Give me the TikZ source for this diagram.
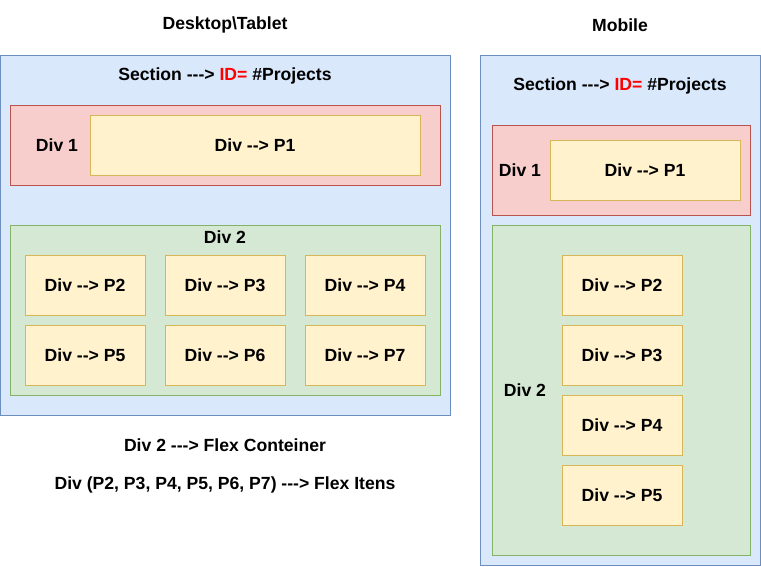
\documentclass[tikz,border=0pt]{standalone}
\usepackage{fontspec}
\setmainfont[Ligatures=TeXOff]{Liberation Sans}
\usepackage{tikz}

\definecolor{secfill}{HTML}{DAE8FC}
\definecolor{secline}{HTML}{6C8EBF}
\definecolor{redfill}{HTML}{F8CECC}
\definecolor{redline}{HTML}{B85450}
\definecolor{greenfill}{HTML}{D5E8D4}
\definecolor{greenline}{HTML}{82B366}
\definecolor{pfill}{HTML}{FFF2CC}
\definecolor{pline}{HTML}{D6B656}

\tikzset{
  box/.style={rectangle, draw, line width=1pt, inner sep=0pt},
  section/.style={box, fill=secfill, draw=secline},
  divred/.style={box, fill=redfill, draw=redline},
  divgreen/.style={box, fill=greenfill, draw=greenline},
  pbox/.style={box, fill=pfill, draw=pline, minimum width=120pt, minimum height=60pt},
  txt/.style={font=\fontsize{17.6}{20}\selectfont\bfseries, inner sep=0pt}
}

\begin{document}
\begin{tikzpicture}[x=1pt, y=-1pt]
\useasboundingbox (0,0) rectangle (761,566);
\path
(225,25) node[txt] (title-desk) {Desktop\textbackslash Tablet}
(620,25) node[txt] (title-mob) {Mobile};

% desktop / tablet
\path
(225,235) node[section, minimum width=450pt, minimum height=360pt] (desk) {}
(225,76) node[txt] (desk-sec) {Section ---> \textcolor{red}{ID=} \#Projects}
(225,145) node[divred, minimum width=430pt, minimum height=80pt] (desk-div1) {}
(57,145) node[txt] (desk-div1-lbl) {Div 1}
(255,145) node[pbox, minimum width=330pt] (desk-p1) {}
(255,145) node[txt] {Div --> P1}
(225,310) node[divgreen, minimum width=430pt, minimum height=170pt] (desk-div2) {}
(225,237) node[txt] (desk-div2-lbl) {Div 2}
(85,285) node[pbox] (desk-p2) {}
(225,285) node[pbox] (desk-p3) {}
(365,285) node[pbox] (desk-p4) {}
(85,355) node[pbox] (desk-p5) {}
(225,355) node[pbox] (desk-p6) {}
(365,355) node[pbox] (desk-p7) {};
\foreach \p in {2,...,7}
  \node[txt] at (desk-p\p) {Div --> P\p};

\path
(225,445) node[txt] (note-flex) {Div 2 ---> Flex Conteiner}
(225,485) node[txt] (note-itens) {Div (P2, P3, P4, P5, P6, P7) ---> Flex Itens};

% mobile
\path
(620,310) node[section, minimum width=280pt, minimum height=510pt] (mob) {}
(620,86) node[txt] (mob-sec) {Section ---> \textcolor{red}{ID=} \#Projects}
(621,170) node[divred, minimum width=258pt, minimum height=90pt] (mob-div1) {}
(520,170) node[txt] (mob-div1-lbl) {Div 1}
(645,170) node[pbox, minimum width=190pt] (mob-p1) {}
(645,170) node[txt] {Div --> P1}
(621,390) node[divgreen, minimum width=258pt, minimum height=330pt] (mob-div2) {}
(525,390) node[txt] (mob-div2-lbl) {Div 2}
(622,285) node[pbox] (mob-p2) {}
(622,355) node[pbox] (mob-p3) {}
(622,425) node[pbox] (mob-p4) {}
(622,495) node[pbox] (mob-p5) {};
\foreach \p in {2,...,5}
  \node[txt] at (mob-p\p) {Div --> P\p};
\end{tikzpicture}
\end{document}
